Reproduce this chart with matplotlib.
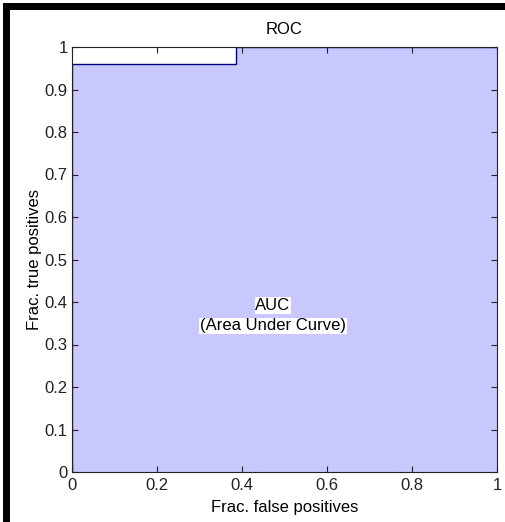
import matplotlib.pyplot as plt
from matplotlib.patches import Rectangle

# ROC curve points
fpr = [0.0, 0.0, 0.386, 0.386, 1.0]
tpr = [0.0, 0.96, 0.96, 1.0, 1.0]

xticks = [0, 0.2, 0.4, 0.6, 0.8, 1]
xticklabels = ['0', '0.2', '0.4', '0.6', '0.8', '1']
yticks = [0, 0.1, 0.2, 0.3, 0.4, 0.5, 0.6, 0.7, 0.8, 0.9, 1]
yticklabels = ['0', '0.1', '0.2', '0.3', '0.4', '0.5', '0.6', '0.7', '0.8', '0.9', '1']

plt.rcParams['font.family'] = ['Liberation Sans', 'DejaVu Sans']
plt.rcParams['font.size'] = 12

W, H = 505, 522
fig = plt.figure(figsize=(W / 100, H / 100), dpi=100)
fig.patch.set_facecolor('white')

# thick black frame on the top and left edges
fig.patches.append(Rectangle((3 / W, 1 - 10 / H), 1, 7 / H, transform=fig.transFigure,
                             facecolor='black', edgecolor='none'))
fig.patches.append(Rectangle((3 / W, 0), 7 / W, 1 - 3 / H, transform=fig.transFigure,
                             facecolor='black', edgecolor='none'))

ax = fig.add_axes([72 / W, 1 - 472 / H, 425 / W, 425 / H])

ax.fill_between(fpr, tpr, 0, color='#c8c8ff', linewidth=0)
ax.plot(fpr, tpr, color='#00007f', linewidth=1)

ax.set_xlim(0, 1)
ax.set_ylim(0, 1)
ax.set_xticks(xticks)
ax.set_xticklabels(xticklabels)
ax.set_yticks(yticks)
ax.set_yticklabels(yticklabels)
ax.tick_params(direction='in', top=True, right=True, length=4, width=0.8,
               colors='#222222', labelsize=12, pad=3)
ax.tick_params(axis='x', pad=4.5)
for s in ax.spines.values():
    s.set_color('#222222')
    s.set_linewidth(0.8)

ax.set_title('ROC', fontsize=12, pad=9.5)
ax.set_xlabel('Frac. false positives', fontsize=12, labelpad=5)
ax.set_ylabel('Frac. true positives', fontsize=12, labelpad=2)

ax.text(0.473, 0.392, 'AUC', ha='center', va='center', fontsize=12,
        bbox=dict(facecolor='white', edgecolor='none', pad=0.5))
ax.text(0.473, 0.344, '(Area Under Curve)', ha='center', va='center', fontsize=12,
        bbox=dict(facecolor='white', edgecolor='none', pad=0.5))

fig.savefig('out.png', dpi=100)
